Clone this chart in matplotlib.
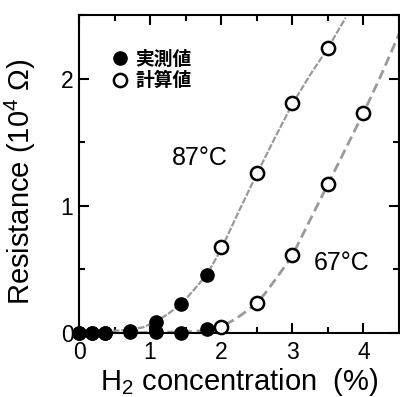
import matplotlib
matplotlib.use('Agg')
import matplotlib.pyplot as plt
from matplotlib.ticker import MultipleLocator
from matplotlib.lines import Line2D

plt.rcParams['font.family'] = ['Liberation Sans', 'Noto Sans CJK JP', 'DejaVu Sans']
plt.rcParams['mathtext.fontset'] = 'custom'
plt.rcParams['mathtext.rm'] = 'Liberation Sans'
plt.rcParams['mathtext.it'] = 'Liberation Sans:italic'

# 実測値 (黒丸)
meas_x = [0, 0.18, 0.36, 0.72, 1.08, 1.44, 1.8]
meas87_y = [0, 0, 0, 0.02, 0.09, 0.23, 0.46]
meas67_y = [0, 0, 0, 0.01, 0.01, 0.0, 0.03]

# 計算値 (白丸)
calc87_x = [2.0, 2.5, 3.0, 3.5]
calc87_y = [0.68, 1.26, 1.81, 2.24]
calc67_x = [2.0, 2.5, 3.0, 3.5, 4.0]
calc67_y = [0.05, 0.24, 0.61, 1.17, 1.73]

# フィット曲線
fit87_x = [0, 0.4, 0.7, 0.9, 1.08, 1.25, 1.44, 1.6, 1.8, 2.0, 2.25, 2.5, 2.75, 3.0, 3.25, 3.5, 3.75]
fit87_y = [0.01, 0.015, 0.025, 0.045, 0.09, 0.15, 0.23, 0.33, 0.46, 0.66, 0.96, 1.25, 1.53, 1.80, 2.03, 2.24, 2.48]
fit67_x = [0, 0.5, 1.0, 1.5, 1.8, 2.0, 2.2, 2.4, 2.6, 2.8, 3.0, 3.25, 3.5, 3.75, 4.0, 4.25, 4.5]
fit67_y = [0.0, 0.0, 0.005, 0.01, 0.02, 0.05, 0.11, 0.19, 0.30, 0.45, 0.61, 0.89, 1.17, 1.45, 1.73, 2.03, 2.35]

gray = '#9a9a9a'

fig = plt.figure(figsize=(4.0, 3.97), dpi=100)
ax = fig.add_axes([0.1975, 0.161, 0.8, 0.801])

ax.plot(fit87_x, fit87_y, color=gray, lw=1.6, dashes=(3, 0.8), zorder=2)
ax.plot(fit67_x, fit67_y, color=gray, lw=2.0, dashes=(3.5, 1.8), zorder=2)

ax.plot(meas_x, meas87_y, 'o', color='black', ms=9.5, clip_on=False, zorder=4)
ax.plot(meas_x, meas67_y, 'o', color='black', ms=9.5, clip_on=False, zorder=4)
ax.plot(calc87_x, calc87_y, 'o', mfc='white', mec='black', mew=1.8, ms=9.5, clip_on=False, zorder=4)
ax.plot(calc67_x, calc67_y, 'o', mfc='white', mec='black', mew=1.8, ms=9.5, clip_on=False, zorder=4)

ax.set_xlim(0, 4.5)
ax.set_ylim(0, 2.5)
ax.xaxis.set_major_locator(MultipleLocator(1))
ax.xaxis.set_minor_locator(MultipleLocator(0.5))
ax.yaxis.set_major_locator(MultipleLocator(1))
ax.yaxis.set_minor_locator(MultipleLocator(0.5))
ax.tick_params(which='both', direction='in', top=True, right=True, width=1.5,
               labelsize=16.5)
ax.tick_params(axis='x', pad=6)
ax.tick_params(axis='y', pad=4)
ax.tick_params(which='major', length=7)
ax.tick_params(which='minor', length=4.5)
for s in ax.spines.values():
    s.set_linewidth(1.5)

ax.set_xlabel('H$_2$ concentration  (%)', fontsize=21, labelpad=1)
ax.set_ylabel('Resistance (10$^4$ Ω)', fontsize=21)
ax.yaxis.set_label_coords(-0.128, 0.475)

ax.text(1.7, 1.38, '87°C', fontsize=18, ha='center', va='center')
ax.text(3.7, 0.55, '67°C', fontsize=18, ha='center', va='center')

handles = [
    Line2D([], [], ls='none', marker='o', color='black', ms=9.5),
    Line2D([], [], ls='none', marker='o', mfc='white', mec='black', mew=1.8, ms=9.5),
]
leg = ax.legend(handles, ['実測値', '計算値'], loc='upper left', bbox_to_anchor=(0.08, 0.915),
                frameon=False, handlelength=0.8, handletextpad=0.45, labelspacing=0.15,
                borderaxespad=0, prop={'family': ['Noto Sans CJK JP'], 'weight': 'bold', 'size': 13.5})

fig.savefig('out.png', dpi=100)
